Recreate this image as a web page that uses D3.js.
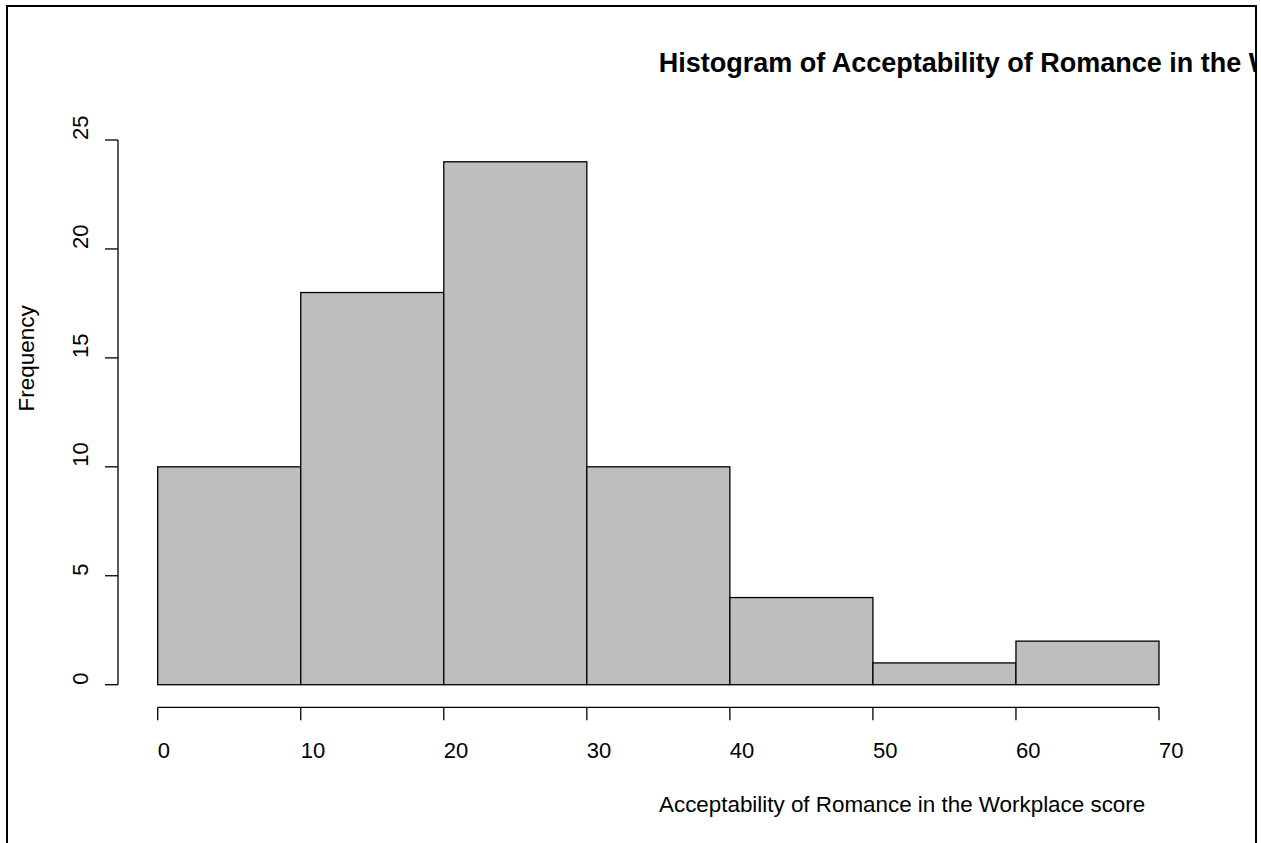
<!DOCTYPE html>
<html>
<head>
<meta charset="utf-8">
<script src="https://cdn.jsdelivr.net/npm/d3@7"></script>
<style>
  html, body { margin: 0; padding: 0; background: #fff; }
  svg { display: block; }
  text { font-family: "Liberation Sans", Arial, Helvetica, sans-serif; fill: #000; }
</style>
</head>
<body>
<svg id="chart" width="1261" height="843"></svg>
<script>
// ---- data ----
const binStarts = [0, 10, 20, 30, 40, 50, 60];
const binEnds   = [10, 20, 30, 40, 50, 60, 70];
const counts    = [10, 18, 24, 10, 4, 1, 2];
const xTickValues = [0, 10, 20, 30, 40, 50, 60, 70];
const yTickValues = [0, 5, 10, 15, 20, 25];
const titleText = "Histogram of Acceptability of Romance in the Workplace score";
const xLabelText = "Acceptability of Romance in the Workplace score";
const yLabelText = "Frequency";

// ---- layout ----
const W = 1261, H = 843;
const svg = d3.select("#chart");

const x = d3.scaleLinear().domain([0, 70]).range([157.7, 1159]);
const y = d3.scaleLinear().domain([0, 25]).range([684.7, 140]);

// outer frame
svg.append("rect")
  .attr("x", 7).attr("y", 6)
  .attr("width", 1249).attr("height", 900)
  .attr("fill", "none").attr("stroke", "#000").attr("stroke-width", 2);

// clip for title
svg.append("defs").append("clipPath").attr("id", "frameClip")
  .append("rect").attr("x", 8).attr("y", 7).attr("width", 1247).attr("height", 900);

// bars
const bins = binStarts.map((s, i) => ({ x0: s, x1: binEnds[i], n: counts[i] }));
svg.append("g").selectAll("rect").data(bins).join("rect")
  .attr("x", d => x(d.x0))
  .attr("y", d => y(d.n))
  .attr("width", d => x(d.x1) - x(d.x0))
  .attr("height", d => y(0) - y(d.n))
  .attr("fill", "#bebebe")
  .attr("stroke", "#000")
  .attr("stroke-width", 1.3);

// y axis
const yAxisX = 118;
const gy = svg.append("g");
gy.append("line")
  .attr("x1", yAxisX).attr("x2", yAxisX)
  .attr("y1", y(d3.min(yTickValues))).attr("y2", y(d3.max(yTickValues)))
  .attr("stroke", "#000").attr("stroke-width", 1.3);
gy.selectAll("line.tick").data(yTickValues).join("line")
  .attr("class", "tick")
  .attr("x1", yAxisX - 13).attr("x2", yAxisX)
  .attr("y1", d => y(d)).attr("y2", d => y(d))
  .attr("stroke", "#000").attr("stroke-width", 1.3);
gy.selectAll("text").data(yTickValues).join("text")
  .attr("transform", d => `translate(88,${y(d)}) rotate(-90)`)
  .attr("text-anchor", "start")
  .attr("font-size", 22)
  .text(d => d);

// x axis
const xAxisY = 707.3;
const gx = svg.append("g");
gx.append("line")
  .attr("x1", x(d3.min(xTickValues))).attr("x2", x(d3.max(xTickValues)))
  .attr("y1", xAxisY).attr("y2", xAxisY)
  .attr("stroke", "#000").attr("stroke-width", 1.3);
gx.selectAll("line.tick").data(xTickValues).join("line")
  .attr("class", "tick")
  .attr("x1", d => x(d)).attr("x2", d => x(d))
  .attr("y1", xAxisY).attr("y2", xAxisY + 13)
  .attr("stroke", "#000").attr("stroke-width", 1.3);
gx.selectAll("text").data(xTickValues).join("text")
  .attr("x", d => x(d) - (d === 0 ? 0 : 0))
  .attr("y", 758)
  .attr("text-anchor", "start")
  .attr("font-size", 22)
  .text(d => d);

// axis titles
svg.append("text")
  .attr("x", 659).attr("y", 812)
  .attr("font-size", 22.4)
  .text(xLabelText);

svg.append("text")
  .attr("transform", "translate(33.5,411.5) rotate(-90)")
  .attr("text-anchor", "start")
  .attr("font-size", 22.5)
  .text(yLabelText);

// main title (clipped by the frame, as in the reference)
svg.append("g").attr("clip-path", "url(#frameClip)")
  .append("text")
  .attr("x", 658.7).attr("y", 72)
  .attr("font-size", 27)
  .attr("font-weight", "bold")
  .text(titleText);
</script>
</body>
</html>
